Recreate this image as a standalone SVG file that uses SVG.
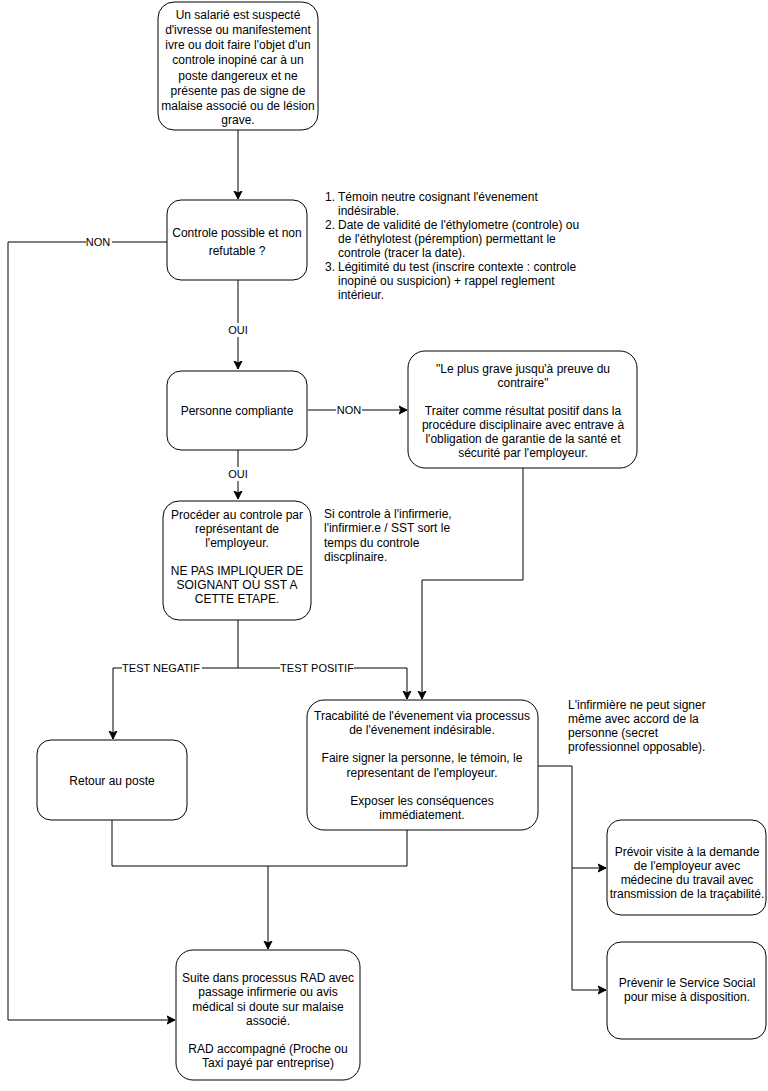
<svg xmlns="http://www.w3.org/2000/svg" width="768" height="1091" viewBox="0 0 768 1091">
<style>
.n{fill:#fff;stroke:#000;stroke-width:1}
.t{font-family:"Liberation Sans",Arial,sans-serif;font-size:12px;fill:#000;text-anchor:middle}
.l{font-family:"Liberation Sans",Arial,sans-serif;font-size:12px;fill:#000}
.c{fill:none;stroke:#000;stroke-width:1}
.lb{font-family:"Liberation Sans",Arial,sans-serif;font-size:11px;fill:#000;text-anchor:middle}
</style>
<defs>
<marker id="a" markerWidth="10" markerHeight="10" refX="8" refY="5" orient="auto" markerUnits="userSpaceOnUse">
<path d="M0,1 L8,5 L0,9 L2,5 Z" fill="#000" stroke="#000" stroke-width="1"/>
</marker>
</defs>
<rect width="768" height="1091" fill="#fff"/>
<g id="connectors">
<path class="c" d="M238,130 V199" marker-end="url(#a)"/>
<path class="c" d="M238,280 V369" marker-end="url(#a)"/>
<path class="c" d="M167,242 H8 V1020 H175" marker-end="url(#a)"/>
<path class="c" d="M308,410 H407" marker-end="url(#a)"/>
<path class="c" d="M238,450 V499" marker-end="url(#a)"/>
<path class="c" d="M238,620 V668 H113 V739" marker-end="url(#a)"/>
<path class="c" d="M238,668 H407 V699" marker-end="url(#a)"/>
<path class="c" d="M523,468 V580 H422 V699" marker-end="url(#a)"/>
<path class="c" d="M538,766 H572 V990 H606" marker-end="url(#a)"/>
<path class="c" d="M572,868 H606" marker-end="url(#a)"/>
<path class="c" d="M112,820 V866 H407 V830"/>
<path class="c" d="M268,866 V949" marker-end="url(#a)"/>
<g>
<rect x="86" y="235" width="26" height="14" fill="#fff"/>
<text class="lb" x="98" y="246">NON</text>
<rect x="226" y="323" width="24" height="14" fill="#fff"/>
<text class="lb" x="238" y="334">OUI</text>
<rect x="336" y="403" width="26" height="14" fill="#fff"/>
<text class="lb" x="349" y="414">NON</text>
<rect x="226" y="467" width="24" height="14" fill="#fff"/>
<text class="lb" x="238" y="478">OUI</text>
<rect x="122" y="661" width="80" height="14" fill="#fff"/>
<text class="lb" x="161" y="672">TEST NEGATIF</text>
<rect x="280" y="661" width="74" height="14" fill="#fff"/>
<text class="lb" x="317" y="672">TEST POSITIF</text>
</g>
</g>
<g id="n1">
<rect class="n" x="158" y="2" width="160" height="128" rx="16"/>
<text class="t" x="238" y="19">Un salarié est suspecté</text>
<text class="t" x="238" y="34">d'ivresse ou manifestement</text>
<text class="t" x="238" y="49">ivre ou doit faire l'objet d'un</text>
<text class="t" x="238" y="64">controle inopiné car à un</text>
<text class="t" x="238" y="80">poste dangereux et ne</text>
<text class="t" x="238" y="95">présente pas de signe de</text>
<text class="t" x="238" y="110">malaise associé ou de lésion</text>
<text class="t" x="238" y="124">grave.</text>
</g>
<g id="n2">
<rect class="n" x="167" y="200" width="140" height="80" rx="14"/>
<text class="t" x="237" y="237">Controle possible et non</text>
<text class="t" x="237" y="255">refutable ?</text>
</g>
<g id="note1">
<text class="l" x="325" y="201">1.</text><text class="l" x="338" y="201">Témoin neutre cosignant l'évenement</text>
<text class="l" x="338" y="215">indésirable.</text>
<text class="l" x="325" y="229">2.</text><text class="l" x="338" y="229">Date de validité de l'éthylometre (controle) ou</text>
<text class="l" x="338" y="243">de l'éthylotest (péremption) permettant le</text>
<text class="l" x="338" y="257">controle (tracer la date).</text>
<text class="l" x="325" y="271">3.</text><text class="l" x="338" y="271">Légitimité du test (inscrire contexte : controle</text>
<text class="l" x="338" y="285">inopiné ou suspicion) + rappel reglement</text>
<text class="l" x="338" y="299">intérieur.</text>
</g>
<g id="n3">
<rect class="n" x="167" y="371" width="140" height="79" rx="14"/>
<text class="t" x="237" y="415">Personne compliante</text>
</g>
<g id="n4">
<rect class="n" x="408" y="351" width="229" height="117" rx="17"/>
<text class="t" x="523" y="373">"Le plus grave jusqu'à preuve du</text>
<text class="t" x="523" y="387">contraire"</text>
<text class="t" x="523" y="415">Traiter comme résultat positif dans la</text>
<text class="t" x="523" y="429">procédure disciplinaire avec entrave à</text>
<text class="t" x="523" y="443">l'obligation de garantie de la santé et</text>
<text class="t" x="523" y="457">sécurité par l'employeur.</text>
</g>
<g id="n5">
<rect class="n" x="163" y="501" width="148" height="119" rx="16"/>
<text class="t" x="237" y="519">Procéder au controle par</text>
<text class="t" x="237" y="533">représentant de</text>
<text class="t" x="237" y="547">l'employeur.</text>
<text class="t" x="237" y="575">NE PAS IMPLIQUER DE</text>
<text class="t" x="237" y="589">SOIGNANT OU SST A</text>
<text class="t" x="237" y="603">CETTE ETAPE.</text>
</g>
<g id="note2">
<text class="l" x="324" y="518">Si controle à l'infirmerie,</text>
<text class="l" x="324" y="532">l'infirmier.e / SST sort le</text>
<text class="l" x="324" y="547">temps du controle</text>
<text class="l" x="324" y="561">discplinaire.</text>
</g>
<g id="n6">
<rect class="n" x="37" y="740" width="150" height="80" rx="14"/>
<text class="t" x="112" y="785">Retour au poste</text>
</g>
<g id="n7">
<rect class="n" x="307" y="700" width="231" height="130" rx="17"/>
<text class="t" x="422" y="720">Tracabilité de l'évenement via processus</text>
<text class="t" x="422" y="734">de l'évenement indésirable.</text>
<text class="t" x="422" y="762">Faire signer la personne, le témoin, le</text>
<text class="t" x="422" y="777">representant de l'employeur.</text>
<text class="t" x="422" y="805">Exposer les conséquences</text>
<text class="t" x="422" y="819">immédiatement.</text>
</g>
<g id="note3">
<text class="l" x="568" y="709">L'infirmière ne peut signer</text>
<text class="l" x="568" y="723">même avec accord de la</text>
<text class="l" x="568" y="737">personne (secret</text>
<text class="l" x="568" y="751">professionnel opposable).</text>
</g>
<g id="n8">
<rect class="n" x="607" y="820" width="159" height="95" rx="14"/>
<text class="t" x="687" y="856">Prévoir visite à la demande</text>
<text class="t" x="687" y="870">de l'employeur avec</text>
<text class="t" x="687" y="884">médecine du travail avec</text>
<text class="t" x="687" y="898">transmission de la traçabilité.</text>
</g>
<g id="n9">
<rect class="n" x="607" y="942" width="159" height="97" rx="14"/>
<text class="t" x="687" y="987">Prévenir le Service Social</text>
<text class="t" x="687" y="1001">pour mise à disposition.</text>
</g>
<g id="n10">
<rect class="n" x="176" y="950" width="184" height="130" rx="17"/>
<text class="t" x="268" y="982">Suite dans processus RAD avec</text>
<text class="t" x="268" y="996">passage infirmerie ou avis</text>
<text class="t" x="268" y="1011">médical si doute sur malaise</text>
<text class="t" x="268" y="1025">associé.</text>
<text class="t" x="268" y="1053">RAD accompagné (Proche ou</text>
<text class="t" x="268" y="1067">Taxi payé par entreprise)</text>
</g>
</svg>
